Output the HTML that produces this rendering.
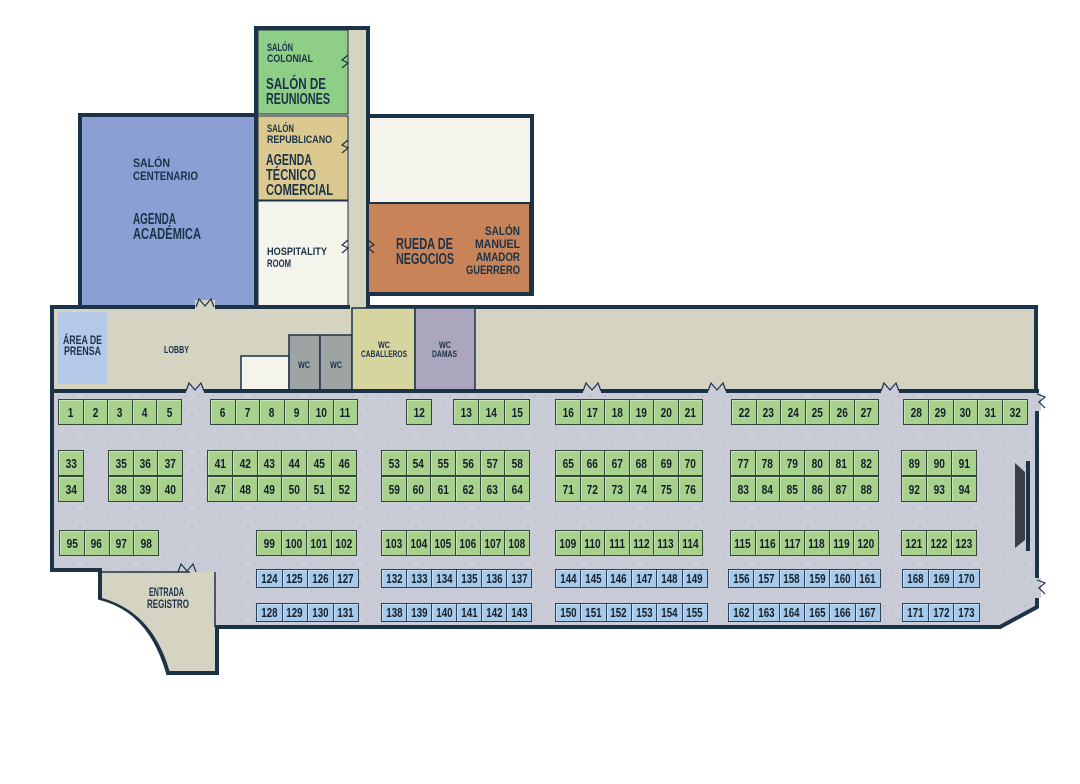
<!DOCTYPE html>
<html><head><meta charset="utf-8"><style>
body{margin:0;width:1080px;height:784px;background:#fff;position:relative;overflow:hidden;font-family:"Liberation Sans",sans-serif;}
svg{position:absolute;left:0;top:0}
.r{position:absolute;display:flex;box-sizing:border-box}
.r b{flex:1;box-sizing:border-box;border:1px solid #34463a;background:#a9d18e;display:flex;align-items:center;justify-content:center;font-size:13px;color:#13202a;margin-right:-1px;box-shadow:inset 1px 1px 0 #c8e6b4;overflow:visible;white-space:nowrap}
.r b i{font-style:normal;display:inline-block;transform:scaleX(.78)}
.r.bl b{background:#a7c9ea;border-color:#2d3f55;box-shadow:inset 1px 1px 0 #c9dff4;font-size:12.5px}
.g{height:26px}.bx{height:19px}
</style></head><body>
<svg width="1080" height="784" viewBox="0 0 1080 784" font-family="'Liberation Sans',sans-serif" font-weight="bold" fill="#1b3247">
<defs><pattern id="sp" width="14" height="14" patternUnits="userSpaceOnUse"><rect width="14" height="14" fill="#c9ccd6"/><circle cx="3" cy="4" r=".6" fill="#9ea2ae"/><circle cx="10" cy="9" r=".6" fill="#a9adb8"/><circle cx="6" cy="12" r=".5" fill="#e6e8ee"/></pattern></defs>
<rect x="80" y="115" width="180" height="194" fill="#8c9fd5" stroke="#1b3247" stroke-width="4"/>
<rect x="256" y="28" width="112" height="280" fill="#d5d3c1" stroke="#1b3247" stroke-width="4"/>
<rect x="368" y="116" width="164" height="178" fill="#f4f4ec" stroke="#1b3247" stroke-width="4"/>
<rect x="368" y="203" width="162" height="90" fill="#c98359" stroke="#1b3247" stroke-width="2"/>
<rect x="258" y="30" width="90" height="84" fill="#8fce86" stroke="#1b3247" stroke-width="1"/>
<rect x="258" y="116" width="90" height="84" fill="#dcc98f" stroke="#1b3247" stroke-width="1"/>
<rect x="258" y="201" width="90" height="106" fill="#f4f4ec" stroke="#1b3247" stroke-width="1"/>
<rect x="52" y="307" width="984" height="84" fill="#d5d3c1" stroke="#1b3247" stroke-width="4"/>
<rect x="350" y="300" width="16" height="36" fill="#d5d3c1"/>
<line x1="366" y1="307" x2="366" y2="336" stroke="#1b3247" stroke-width="2"/>
<rect x="58" y="312" width="49" height="72" fill="#b5c8e8"/>
<rect x="241" y="356" width="48" height="34" fill="#f4f4ec" stroke="#1b3247" stroke-width="1.5"/>
<rect x="289" y="335" width="31" height="55" fill="#9ea3a3" stroke="#1b3247" stroke-width="1.5"/>
<rect x="320" y="335" width="32" height="55" fill="#9ea3a3" stroke="#1b3247" stroke-width="1.5"/>
<rect x="352" y="308" width="63" height="82" fill="#d7d59f" stroke="#1b3247" stroke-width="1.5"/>
<rect x="415" y="308" width="60" height="82" fill="#aba5bd" stroke="#1b3247" stroke-width="1.5"/>
<path d="M52,391 L1037,391 L1037,607 L1000,627 L217,627 L217,673 L168,673 Q150,610 100,598 L100,570 L52,570 Z" fill="url(#sp)" stroke="#1b3247" stroke-width="4"/>
<path d="M102,572 L215,572 L215,671 L170,671 Q152,612 102,598 Z" fill="#d5d3c1"/>
<line x1="215" y1="572" x2="215" y2="627" stroke="#1b3247" stroke-width="1.5"/>
<line x1="102" y1="572" x2="190" y2="572" stroke="#1b3247" stroke-width="1.5"/>
<g fill="#c9ccd6" stroke="none">
<rect x="186" y="385" width="18" height="10"/><rect x="583" y="385" width="18" height="10"/><rect x="708" y="385" width="18" height="10"/><rect x="881" y="385" width="18" height="10"/>
<rect x="1033" y="393" width="8" height="18"/><rect x="1033" y="578" width="8" height="20"/>
<rect x="195" y="300" width="20" height="10" fill="#d5d3c1"/>
</g>
<g fill="none" stroke="#1b3247" stroke-width="1.2">
<path d="M186,391 L189,383 L195,390 L201,383 L204,391"/><path d="M583,391 L586,383 L592,390 L598,383 L601,391"/><path d="M708,391 L711,383 L717,390 L723,383 L726,391"/><path d="M881,391 L884,383 L890,390 L896,383 L899,391"/>
<path d="M196,307 L199,299 L205,306 L211,299 L214,307"/><path d="M178,572 L181,564 L187,571 L193,564 L196,572"/>
<path d="M348,55 L342,60 L348,63 L342,68"/><path d="M348,140 L342,145 L348,148 L342,153"/><path d="M348,240 L342,245 L348,248 L342,253"/><path d="M368,240 L374,245 L368,248 L374,253"/>
<path d="M1037,394 L1045,397 L1039,402 L1045,408"/><path d="M1037,580 L1045,583 L1039,588 L1045,594"/>
</g>
<path d="M1015,463 L1025,472 L1025,540 L1015,548 Z" fill="#3a3d42"/>
<rect x="1026" y="461" width="4" height="90" fill="#1b3247"/>
<g font-size="12" lengthAdjust="spacingAndGlyphs">
<text x="133" y="167" textLength="37" lengthAdjust="spacingAndGlyphs">SALÓN</text><text x="133" y="180" textLength="65" lengthAdjust="spacingAndGlyphs">CENTENARIO</text>
<text x="267" y="51" textLength="26" lengthAdjust="spacingAndGlyphs" font-size="11">SALÓN</text><text x="267" y="62" textLength="46" lengthAdjust="spacingAndGlyphs" font-size="11">COLONIAL</text>
<text x="267" y="132" textLength="27" lengthAdjust="spacingAndGlyphs" font-size="11">SALÓN</text><text x="267" y="143" textLength="65" lengthAdjust="spacingAndGlyphs" font-size="11">REPUBLICANO</text>
<text x="267" y="255" textLength="60" lengthAdjust="spacingAndGlyphs" font-size="11">HOSPITALITY</text><text x="267" y="267" textLength="24" lengthAdjust="spacingAndGlyphs" font-size="11">ROOM</text>
<text x="485" y="235" textLength="35" lengthAdjust="spacingAndGlyphs">SALÓN</text><text x="475" y="248" textLength="45" lengthAdjust="spacingAndGlyphs">MANUEL</text><text x="476" y="261" textLength="44" lengthAdjust="spacingAndGlyphs">AMADOR</text><text x="466" y="274" textLength="54" lengthAdjust="spacingAndGlyphs">GUERRERO</text>
</g>
<g font-size="16">
<text x="133" y="224" textLength="43" lengthAdjust="spacingAndGlyphs">AGENDA</text><text x="133" y="239" textLength="68" lengthAdjust="spacingAndGlyphs">ACADÉMICA</text>
<text x="266" y="89" textLength="60" lengthAdjust="spacingAndGlyphs">SALÓN DE</text><text x="266" y="104" textLength="64" lengthAdjust="spacingAndGlyphs">REUNIONES</text>
<text x="266" y="165" textLength="46" lengthAdjust="spacingAndGlyphs">AGENDA</text><text x="266" y="180" textLength="50" lengthAdjust="spacingAndGlyphs">TÉCNICO</text><text x="266" y="195" textLength="67" lengthAdjust="spacingAndGlyphs">COMERCIAL</text>
<text x="396" y="249" textLength="57" lengthAdjust="spacingAndGlyphs">RUEDA DE</text><text x="396" y="264" textLength="58" lengthAdjust="spacingAndGlyphs">NEGOCIOS</text>
</g>
<g font-size="12">
<text x="63" y="344" textLength="39" lengthAdjust="spacingAndGlyphs">ÁREA DE</text><text x="64" y="355" textLength="37" lengthAdjust="spacingAndGlyphs">PRENSA</text>
<text x="164" y="353" textLength="25" lengthAdjust="spacingAndGlyphs" font-size="10">LOBBY</text>
<text x="149" y="596" textLength="35" lengthAdjust="spacingAndGlyphs">ENTRADA</text><text x="147" y="608" textLength="42" lengthAdjust="spacingAndGlyphs">REGISTRO</text>
</g>
<g font-size="9">
<text x="298" y="368" textLength="12" lengthAdjust="spacingAndGlyphs">WC</text><text x="330" y="368" textLength="12" lengthAdjust="spacingAndGlyphs">WC</text>
<text x="378" y="348" textLength="12" lengthAdjust="spacingAndGlyphs">WC</text><text x="361" y="357" textLength="46" lengthAdjust="spacingAndGlyphs">CABALLEROS</text>
<text x="439" y="348" textLength="12" lengthAdjust="spacingAndGlyphs">WC</text><text x="432" y="357" textLength="25" lengthAdjust="spacingAndGlyphs">DAMAS</text>
</g>
</svg>

<div class="r g" style="left:58px;top:399px;width:123px"><b><i>1</i></b><b><i>2</i></b><b><i>3</i></b><b><i>4</i></b><b><i>5</i></b></div>
<div class="r g" style="left:210px;top:399px;width:147px"><b><i>6</i></b><b><i>7</i></b><b><i>8</i></b><b><i>9</i></b><b><i>10</i></b><b><i>11</i></b></div>
<div class="r g" style="left:406px;top:399px;width:25px"><b><i>12</i></b></div>
<div class="r g" style="left:453px;top:399px;width:76px"><b><i>13</i></b><b><i>14</i></b><b><i>15</i></b></div>
<div class="r g" style="left:555px;top:399px;width:147px"><b><i>16</i></b><b><i>17</i></b><b><i>18</i></b><b><i>19</i></b><b><i>20</i></b><b><i>21</i></b></div>
<div class="r g" style="left:731px;top:399px;width:147px"><b><i>22</i></b><b><i>23</i></b><b><i>24</i></b><b><i>25</i></b><b><i>26</i></b><b><i>27</i></b></div>
<div class="r g" style="left:903px;top:399px;width:124px"><b><i>28</i></b><b><i>29</i></b><b><i>30</i></b><b><i>31</i></b><b><i>32</i></b></div>

<div class="r g" style="left:58px;top:450px;width:25px"><b><i>33</i></b></div>
<div class="r g" style="left:108px;top:450px;width:74px"><b><i>35</i></b><b><i>36</i></b><b><i>37</i></b></div>
<div class="r g" style="left:207px;top:450px;width:149px"><b><i>41</i></b><b><i>42</i></b><b><i>43</i></b><b><i>44</i></b><b><i>45</i></b><b><i>46</i></b></div>
<div class="r g" style="left:381px;top:450px;width:148px"><b><i>53</i></b><b><i>54</i></b><b><i>55</i></b><b><i>56</i></b><b><i>57</i></b><b><i>58</i></b></div>
<div class="r g" style="left:555px;top:450px;width:147px"><b><i>65</i></b><b><i>66</i></b><b><i>67</i></b><b><i>68</i></b><b><i>69</i></b><b><i>70</i></b></div>
<div class="r g" style="left:730px;top:450px;width:148px"><b><i>77</i></b><b><i>78</i></b><b><i>79</i></b><b><i>80</i></b><b><i>81</i></b><b><i>82</i></b></div>
<div class="r g" style="left:901px;top:450px;width:75px"><b><i>89</i></b><b><i>90</i></b><b><i>91</i></b></div>

<div class="r g" style="left:58px;top:476px;width:25px"><b><i>34</i></b></div>
<div class="r g" style="left:108px;top:476px;width:74px"><b><i>38</i></b><b><i>39</i></b><b><i>40</i></b></div>
<div class="r g" style="left:207px;top:476px;width:149px"><b><i>47</i></b><b><i>48</i></b><b><i>49</i></b><b><i>50</i></b><b><i>51</i></b><b><i>52</i></b></div>
<div class="r g" style="left:381px;top:476px;width:148px"><b><i>59</i></b><b><i>60</i></b><b><i>61</i></b><b><i>62</i></b><b><i>63</i></b><b><i>64</i></b></div>
<div class="r g" style="left:555px;top:476px;width:147px"><b><i>71</i></b><b><i>72</i></b><b><i>73</i></b><b><i>74</i></b><b><i>75</i></b><b><i>76</i></b></div>
<div class="r g" style="left:730px;top:476px;width:148px"><b><i>83</i></b><b><i>84</i></b><b><i>85</i></b><b><i>86</i></b><b><i>87</i></b><b><i>88</i></b></div>
<div class="r g" style="left:901px;top:476px;width:75px"><b><i>92</i></b><b><i>93</i></b><b><i>94</i></b></div>

<div class="r g" style="left:59px;top:530px;width:99px"><b><i>95</i></b><b><i>96</i></b><b><i>97</i></b><b><i>98</i></b></div>
<div class="r g" style="left:256px;top:530px;width:100px"><b><i>99</i></b><b><i>100</i></b><b><i>101</i></b><b><i>102</i></b></div>
<div class="r g" style="left:381px;top:530px;width:148px"><b><i>103</i></b><b><i>104</i></b><b><i>105</i></b><b><i>106</i></b><b><i>107</i></b><b><i>108</i></b></div>
<div class="r g" style="left:555px;top:530px;width:147px"><b><i>109</i></b><b><i>110</i></b><b><i>111</i></b><b><i>112</i></b><b><i>113</i></b><b><i>114</i></b></div>
<div class="r g" style="left:730px;top:530px;width:148px"><b><i>115</i></b><b><i>116</i></b><b><i>117</i></b><b><i>118</i></b><b><i>119</i></b><b><i>120</i></b></div>
<div class="r g" style="left:901px;top:530px;width:75px"><b><i>121</i></b><b><i>122</i></b><b><i>123</i></b></div>

<div class="r bl bx" style="left:256px;top:569px;width:102px"><b><i>124</i></b><b><i>125</i></b><b><i>126</i></b><b><i>127</i></b></div>
<div class="r bl bx" style="left:381px;top:569px;width:150px"><b><i>132</i></b><b><i>133</i></b><b><i>134</i></b><b><i>135</i></b><b><i>136</i></b><b><i>137</i></b></div>
<div class="r bl bx" style="left:555px;top:569px;width:152px"><b><i>144</i></b><b><i>145</i></b><b><i>146</i></b><b><i>147</i></b><b><i>148</i></b><b><i>149</i></b></div>
<div class="r bl bx" style="left:728px;top:569px;width:152px"><b><i>156</i></b><b><i>157</i></b><b><i>158</i></b><b><i>159</i></b><b><i>160</i></b><b><i>161</i></b></div>
<div class="r bl bx" style="left:902px;top:569px;width:77px"><b><i>168</i></b><b><i>169</i></b><b><i>170</i></b></div>

<div class="r bl bx" style="left:256px;top:603px;width:102px"><b><i>128</i></b><b><i>129</i></b><b><i>130</i></b><b><i>131</i></b></div>
<div class="r bl bx" style="left:381px;top:603px;width:150px"><b><i>138</i></b><b><i>139</i></b><b><i>140</i></b><b><i>141</i></b><b><i>142</i></b><b><i>143</i></b></div>
<div class="r bl bx" style="left:555px;top:603px;width:152px"><b><i>150</i></b><b><i>151</i></b><b><i>152</i></b><b><i>153</i></b><b><i>154</i></b><b><i>155</i></b></div>
<div class="r bl bx" style="left:728px;top:603px;width:152px"><b><i>162</i></b><b><i>163</i></b><b><i>164</i></b><b><i>165</i></b><b><i>166</i></b><b><i>167</i></b></div>
<div class="r bl bx" style="left:902px;top:603px;width:77px"><b><i>171</i></b><b><i>172</i></b><b><i>173</i></b></div>
</body></html>
